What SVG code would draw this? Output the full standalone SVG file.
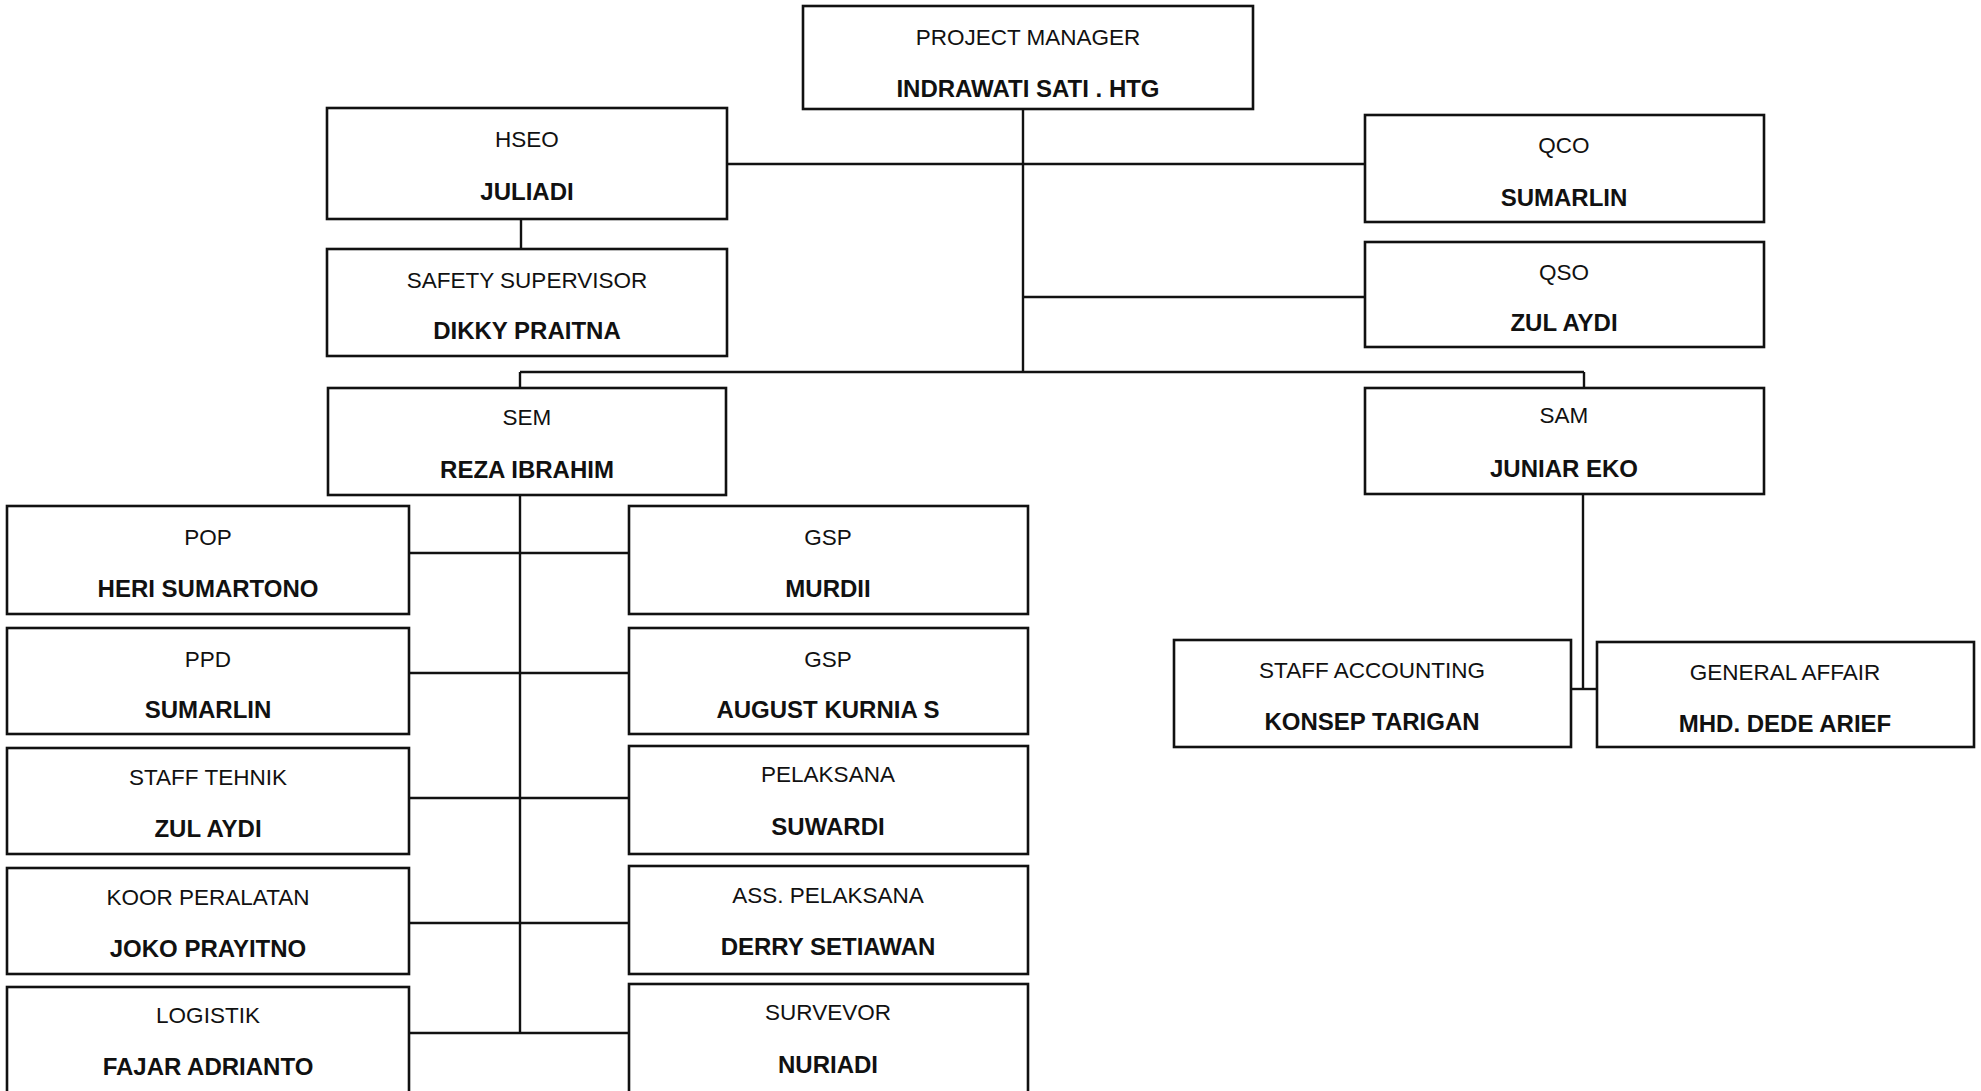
<svg xmlns="http://www.w3.org/2000/svg" width="1981" height="1091" viewBox="0 0 1981 1091">
<style>
.box{fill:#fff;stroke:#111;stroke-width:2.6}
.t{font-family:"Liberation Sans",Arial,sans-serif;font-size:22.5px;fill:#111;text-anchor:middle}
.b{font-family:"Liberation Sans",Arial,sans-serif;font-size:24px;font-weight:bold;fill:#111;text-anchor:middle}
.c{stroke:#111;stroke-width:2.4;fill:none}
</style>
<rect width="1981" height="1091" fill="#fff"/>
<g id="connectors">
<line class="c" x1="1023" y1="109" x2="1023" y2="372"/>
<line class="c" x1="727" y1="164" x2="1365" y2="164"/>
<line class="c" x1="1023" y1="297" x2="1365" y2="297"/>
<line class="c" x1="521" y1="219" x2="521" y2="249"/>
<line class="c" x1="520" y1="372" x2="1584" y2="372"/>
<line class="c" x1="520" y1="372" x2="520" y2="388"/>
<line class="c" x1="1584" y1="372" x2="1584" y2="388"/>
<line class="c" x1="520" y1="495" x2="520" y2="1033"/>
<line class="c" x1="409" y1="553" x2="629" y2="553"/>
<line class="c" x1="409" y1="673" x2="629" y2="673"/>
<line class="c" x1="409" y1="798" x2="629" y2="798"/>
<line class="c" x1="409" y1="923" x2="629" y2="923"/>
<line class="c" x1="409" y1="1033" x2="629" y2="1033"/>
<line class="c" x1="1583" y1="494" x2="1583" y2="689"/>
<line class="c" x1="1571" y1="689" x2="1597" y2="689"/>
</g>
<g id="pm"><rect class="box" x="803" y="6" width="450" height="103"/><text class="t" x="1028" y="45">PROJECT MANAGER</text><text class="b" x="1028" y="97">INDRAWATI SATI . HTG</text></g>
<g id="hseo"><rect class="box" x="327" y="108" width="400" height="111"/><text class="t" x="527" y="147">HSEO</text><text class="b" x="527" y="200">JULIADI</text></g>
<g id="safety"><rect class="box" x="327" y="249" width="400" height="107"/><text class="t" x="527" y="288">SAFETY SUPERVISOR</text><text class="b" x="527" y="339">DIKKY PRAITNA</text></g>
<g id="qco"><rect class="box" x="1365" y="115" width="399" height="107"/><text class="t" x="1564" y="153">QCO</text><text class="b" x="1564" y="206">SUMARLIN</text></g>
<g id="qso"><rect class="box" x="1365" y="242" width="399" height="105"/><text class="t" x="1564" y="280">QSO</text><text class="b" x="1564" y="331">ZUL AYDI</text></g>
<g id="sem"><rect class="box" x="328" y="388" width="398" height="107"/><text class="t" x="527" y="425">SEM</text><text class="b" x="527" y="478">REZA IBRAHIM</text></g>
<g id="sam"><rect class="box" x="1365" y="388" width="399" height="106"/><text class="t" x="1564" y="423">SAM</text><text class="b" x="1564" y="477">JUNIAR EKO</text></g>
<g id="pop"><rect class="box" x="7" y="506" width="402" height="108"/><text class="t" x="208" y="545">POP</text><text class="b" x="208" y="597">HERI SUMARTONO</text></g>
<g id="gsp1"><rect class="box" x="629" y="506" width="399" height="108"/><text class="t" x="828" y="545">GSP</text><text class="b" x="828" y="597">MURDII</text></g>
<g id="ppd"><rect class="box" x="7" y="628" width="402" height="106"/><text class="t" x="208" y="667">PPD</text><text class="b" x="208" y="718">SUMARLIN</text></g>
<g id="gsp2"><rect class="box" x="629" y="628" width="399" height="106"/><text class="t" x="828" y="667">GSP</text><text class="b" x="828" y="718">AUGUST KURNIA S</text></g>
<g id="staff-tehnik"><rect class="box" x="7" y="748" width="402" height="106"/><text class="t" x="208" y="785">STAFF TEHNIK</text><text class="b" x="208" y="837">ZUL AYDI</text></g>
<g id="pelaksana"><rect class="box" x="629" y="746" width="399" height="108"/><text class="t" x="828" y="782">PELAKSANA</text><text class="b" x="828" y="835">SUWARDI</text></g>
<g id="koor"><rect class="box" x="7" y="868" width="402" height="106"/><text class="t" x="208" y="905">KOOR PERALATAN</text><text class="b" x="208" y="957">JOKO PRAYITNO</text></g>
<g id="ass-pelaksana"><rect class="box" x="629" y="866" width="399" height="108"/><text class="t" x="828" y="903">ASS. PELAKSANA</text><text class="b" x="828" y="955">DERRY SETIAWAN</text></g>
<g id="logistik"><rect class="box" x="7" y="987" width="402" height="110"/><text class="t" x="208" y="1023">LOGISTIK</text><text class="b" x="208" y="1075">FAJAR ADRIANTO</text></g>
<g id="survevor"><rect class="box" x="629" y="984" width="399" height="113"/><text class="t" x="828" y="1020">SURVEVOR</text><text class="b" x="828" y="1073">NURIADI</text></g>
<g id="staff-accounting"><rect class="box" x="1174" y="640" width="397" height="107"/><text class="t" x="1372" y="678">STAFF ACCOUNTING</text><text class="b" x="1372" y="730">KONSEP TARIGAN</text></g>
<g id="general-affair"><rect class="box" x="1597" y="642" width="377" height="105"/><text class="t" x="1785" y="680">GENERAL AFFAIR</text><text class="b" x="1785" y="732">MHD. DEDE ARIEF</text></g>
</svg>
